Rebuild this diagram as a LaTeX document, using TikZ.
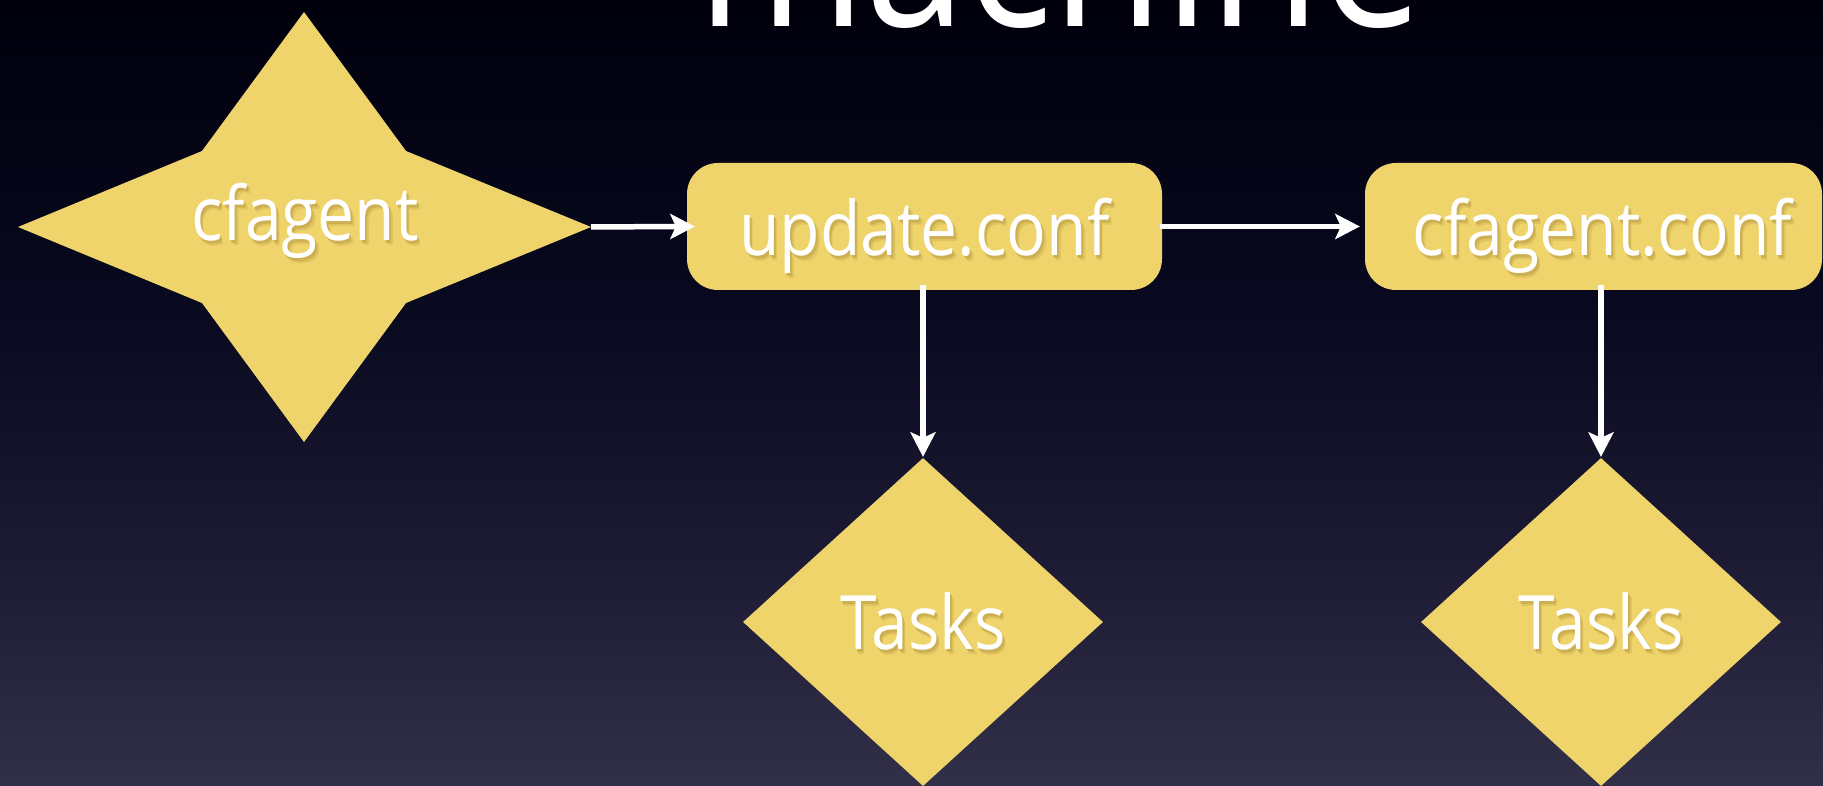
\documentclass[tikz,border=0pt]{standalone}
\usepackage{fontspec}
\setmainfont{Open Sans}[FakeStretch=0.88]
\usetikzlibrary{shapes.geometric}
\definecolor{bgtop}{RGB}{0,0,12}
\definecolor{bgc60}{RGB}{9,9,32}
\definecolor{bgc30}{RGB}{27,26,50}
\definecolor{bgbot}{RGB}{50,48,72}
\definecolor{goldfill}{RGB}{239,212,108}
\definecolor{shadowa}{RGB}{224,196,96}
\definecolor{shadowb}{RGB}{204,176,82}
\pgfdeclareverticalshading{bgshade}{100bp}{color(0bp)=(bgbot); color(25bp)=(bgbot); color(40bp)=(bgc30); color(55bp)=(bgc60); color(75bp)=(bgtop); color(100bp)=(bgtop)}
\newcommand\lbltext[1]{\leavevmode
  \rlap{\kern3.5pt\raisebox{-4.5pt}{\textcolor{shadowa}{#1}}}%
  \rlap{\kern2pt\raisebox{-2.5pt}{\textcolor{shadowb}{#1}}}#1}
\tikzset{
  lblfont/.style={font=\fontsize{75}{80}\selectfont, text=white},
  confbox/.style={fill=goldfill, rounded corners=31pt,
    minimum height=127pt, inner sep=0pt, lblfont, text height=59pt, text depth=0pt},
  taskdiamond/.style={diamond, fill=goldfill, minimum width=360pt,
    minimum height=328pt, inner sep=0pt, lblfont, text height=55pt, text depth=0pt},
  starlabel/.style={lblfont, inner sep=0pt, text height=28pt, text depth=0pt},
  shaft/.style={draw=white, line width=5.5pt},
  headtip/.pic={\fill[white] (0,0) -- (-25,-13) -- (-19,0) -- (-25,13) -- cycle;},
}
\begin{document}
\begin{tikzpicture}[x=1pt, y=-1pt]
  \useasboundingbox (0,0) rectangle (1823,786);
  \clip (0,0) rectangle (1823,786);
  \shade[shading=bgshade] (0,0) rectangle (1823,786);

  % title (cut off at the top)
  \node[anchor=base, inner sep=0pt, text=white,
        font=\fontsize{206}{210}\selectfont] (title) at (1060,27) {machine};

  % four-pointed star
  \fill[goldfill] (304,12) -- (406,151) -- (591,227) -- (406,303) -- (304,442)
     -- (202,303) -- (18,227) -- (202,151) -- cycle;
  \coordinate (cfaeast) at (591,227);
  \node[starlabel] (cfagent) at (305,227) {\lbltext{cfagent}};

  % boxes
  \node[confbox, minimum width=475pt] (upd) at (924.5,226.5) {\lbltext{update.conf}};
  \node[confbox, minimum width=457pt] (cfc) at (1593.5,226.5) {\kern18pt\lbltext{cfagent.conf}};

  % diamonds
  \node[taskdiamond] (tasks1) at (923,622) {\lbltext{Tasks}};
  \node[taskdiamond] (tasks2) at (1601,622) {\lbltext{Tasks}};

  % arrow tip points
  \coordinate (tipA) at ([xshift=8pt]upd.west);
  \coordinate (tipB) at ([xshift=-5pt]cfc.west);
  \coordinate (tipC) at ([yshift=1pt]tasks1.north);
  \coordinate (tipD) at ([yshift=1pt]tasks2.north);

  % connectors
  \draw[shaft] (cfaeast) -- ([xshift=-17pt]tipA);
  \pic at (tipA) {headtip};
  \draw[shaft] ([xshift=-2pt]upd.east) -- ([xshift=-17pt]tipB);
  \pic at (tipB) {headtip};
  \draw[shaft] ([yshift=5pt]upd.south -| tipC) -- ([yshift=17pt]tipC);
  \pic[rotate=-90] at (tipC) {headtip};
  \draw[shaft] ([yshift=5pt]cfc.south -| tipD) -- ([yshift=17pt]tipD);
  \pic[rotate=-90] at (tipD) {headtip};
\end{tikzpicture}
\end{document}
